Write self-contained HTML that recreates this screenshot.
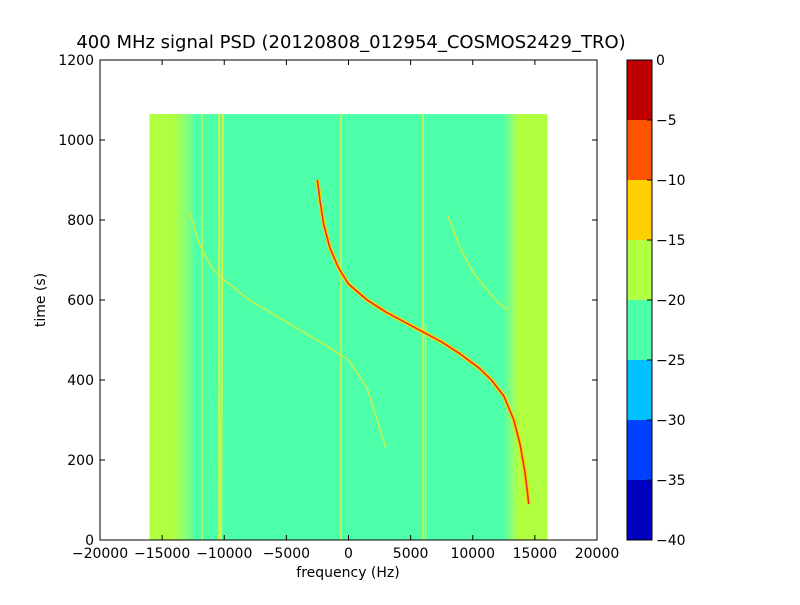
<!DOCTYPE html>
<html><head><meta charset="utf-8"><style>
body{margin:0;background:#fff;}
svg text{font-family:"DejaVu Sans","Liberation Sans",sans-serif;}
</style></head><body>
<svg id="chart" width="800" height="600" xmlns="http://www.w3.org/2000/svg">
<defs>
<linearGradient id="lg" x1="0" x2="1" y1="0" y2="0">
<stop offset="0" stop-color="#b0ff40"/><stop offset="0.5" stop-color="#b0ff40"/><stop offset="0.8" stop-color="#88ff78"/><stop offset="1" stop-color="#4effaa"/></linearGradient>
<linearGradient id="rg" x1="0" x2="1" y1="0" y2="0">
<stop offset="0" stop-color="#4effaa"/><stop offset="0.2" stop-color="#88ff78"/><stop offset="0.35" stop-color="#b0ff40"/><stop offset="1" stop-color="#b0ff40"/></linearGradient>
</defs>
<rect x="100" y="60" width="497" height="480" fill="#fff"/>
<g id="marks"></g>
<rect x="100" y="60" width="497" height="480" fill="none" stroke="#000"/>
<g id="axes"></g>
<text x="351" y="48" font-size="18" text-anchor="middle">400 MHz signal PSD (20120808_012954_COSMOS2429_TRO)</text>
<text x="348" y="577" font-size="14" text-anchor="middle">frequency (Hz)</text>
<text x="45" y="300" font-size="14" text-anchor="middle" transform="rotate(-90 45 300)">time (s)</text>
<g id="cbar"></g>
</svg>
<script>
const xTicks=[-20000,-15000,-10000,-5000,0,5000,10000,15000,20000];
const yTicks=[0,200,400,600,800,1000,1200];
const cbLevels=[0,-5,-10,-15,-20,-25,-30,-35,-40];
const cbColors=["#c00000","#ff5500","#ffd000","#b0ff40","#4effaa","#00c0ff","#0040ff","#0000c0"];
const dataFreqRange=[-16000,16000];
const dataTimeMax=1065;
const vLineFreqs=[-11800,-10400,-10100,-600,6000,6200];
const vLineTimes=[[0,1065],[0,1065],[0,1065],[0,1065],[0,1065],[0,540]];
const mainFreq=[-2500,-2300,-2000,-1500,-800,0,1500,3000,4500,6000,7500,9000,10500,11500,12500,13300,13800,14200,14400,14500];
const mainTime=[900,850,790,730,680,640,600,570,545,520,495,465,430,400,360,300,240,170,120,90];
const sec1Freq=[-12800,-12000,-11000,-10000,-8000,-5000,-2000,0,1500,2500,3000];
const sec1Time=[820,740,680,650,600,545,490,450,380,280,230];
const sec2Freq=[8000,9000,10000,11000,12000,12800];
const sec2Time=[810,730,670,630,595,575];
const X=f=>100+(f+20000)*497/40000;
const Y=t=>540-t*480/1200;
const NS="http://www.w3.org/2000/svg";
function mk(tag,attrs,parent){const e=document.createElementNS(NS,tag);for(const k in attrs)e.setAttribute(k,attrs[k]);parent.appendChild(e);return e;}
const marks=document.getElementById('marks');
const x0=X(dataFreqRange[0]),x1=X(dataFreqRange[1]),yt=Y(dataTimeMax);
let r=mk('rect',{x:x0,y:yt,width:x1-x0,height:540-yt,fill:'#4effaa'},marks);


r=mk('rect',{x:x0,y:yt,width:X(-12300)-x0,height:540-yt,fill:'url(#lg)'},marks);


r=mk('rect',{x:X(12400),y:yt,width:x1-X(12400),height:540-yt,fill:'url(#rg)'},marks);


vLineFreqs.forEach((f,i)=>{
 const l=mk('line',{x1:X(f),x2:X(f)+(i==2?-2:0),y1:Y(vLineTimes[i][1]),y2:Y(vLineTimes[i][0]),stroke:'#d8f040','stroke-width':i==1||i==2?2:1.5},marks);
 
 
});
function curve(fs,ts,color,w,name){
 const d=fs.map((f,i)=>(i?'L':'M')+X(f).toFixed(1)+' '+Y(ts[i]).toFixed(1)).join(' ');
 const p=mk('path',{d:d,fill:'none',stroke:color,'stroke-width':w,'stroke-linejoin':'round'},marks);
 
 
 return p;
}
curve(sec1Freq,sec1Time,'#c8f048',1.5,'secondary-trace-1');
curve(sec2Freq,sec2Time,'#c8f048',1.5,'secondary-trace-2');
curve(mainFreq,mainTime,'#ffd000',4,'main-trace-halo');
curve(mainFreq,mainTime,'#e03020',1.5,'main-trace');
const ax=document.getElementById('axes');
xTicks.forEach(v=>{
 const x=X(v);
 mk('line',{x1:x,x2:x,y1:540,y2:535,stroke:'#000'},ax);
 mk('line',{x1:x,x2:x,y1:60,y2:65,stroke:'#000'},ax);
 const t=mk('text',{x:x,y:558,'font-size':14,'text-anchor':'middle'},ax);
 t.textContent=(v<0?'\u2212'+(-v):v);
 
 
});
yTicks.forEach(v=>{
 const y=Y(v);
 mk('line',{x1:100,x2:105,y1:y,y2:y,stroke:'#000'},ax);
 mk('line',{x1:597,x2:592,y1:y,y2:y,stroke:'#000'},ax);
 const t=mk('text',{x:94,y:y+5,'font-size':14,'text-anchor':'end'},ax);
 t.textContent=v;
 
 
});
const cb=document.getElementById('cbar');
const cbY=v=>60+(-v)*480/40;
cbColors.forEach((c,i)=>{
 const rr=mk('rect',{x:627,y:cbY(cbLevels[i]),width:25,height:cbY(cbLevels[i+1])-cbY(cbLevels[i]),fill:c},cb);
 
 
});
mk('rect',{x:627,y:60,width:25,height:480,fill:'none',stroke:'#000'},cb);
cbLevels.forEach(v=>{
 const y=cbY(v);
 mk('line',{x1:647,x2:652,y1:y,y2:y,stroke:'#000'},cb);
 const t=mk('text',{x:656,y:y+5,'font-size':14},cb);
 t.textContent=v<0?'\u2212'+(-v):v;
 
 
});
</script>
</body></html>
